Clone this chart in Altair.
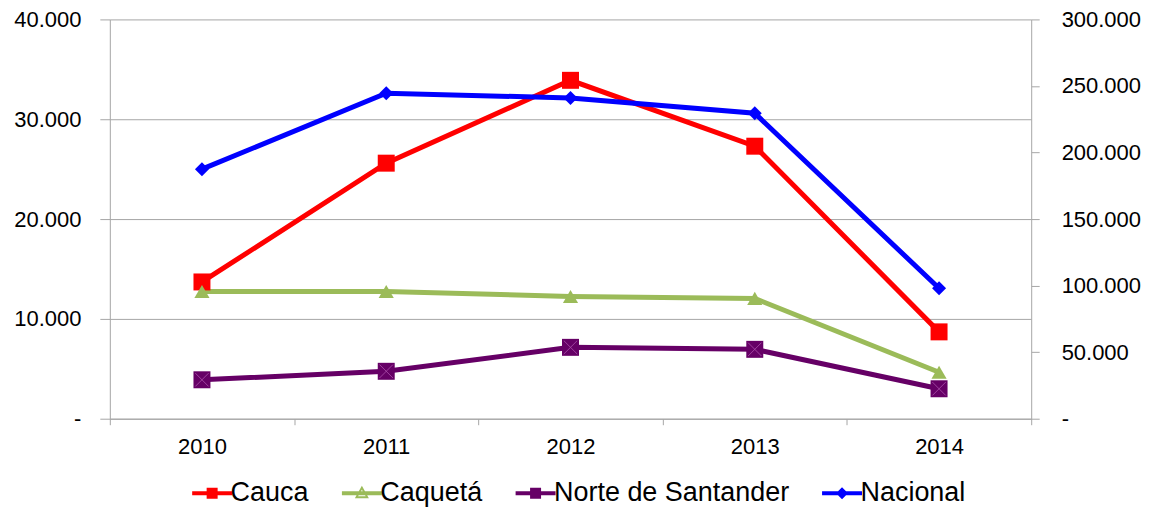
import altair as alt
import pandas as pd

years = [2010, 2011, 2012, 2013, 2014]
series_names = ["Cauca", "Caquetá", "Norte de Santander", "Nacional"]
cauca = [13700, 25600, 33900, 27300, 8700]
caqueta = [12750, 12750, 12250, 12050, 4650]
norte = [3900, 4750, 7150, 6950, 3000]
nacional = [187500, 244500, 241000, 229500, 98000]
colors = ["#FF0000", "#9BBB59", "#660066", "#0000FF"]
left_ticks = [0, 10000, 20000, 30000, 40000]
right_ticks = [0, 50000, 100000, 150000, 200000, 250000, 300000]
x_edges = [2009.5, 2010.5, 2011.5, 2012.5, 2013.5, 2014.5]

rows = []
for name, vals in zip(series_names, [cauca, caqueta, norte, nacional]):
    for yr, v in zip(years, vals):
        rows.append({"year": yr, "series": name, "value": v})
df = pd.DataFrame(rows)
df_reg = df[df["series"] != "Nacional"]
df_nac = df[df["series"] == "Nacional"]

GRID = "#a6a6a6"
FONT = "Liberation Sans"
AXFS = 22

line_rect = "M-2,-0.2L2,-0.2L2,0.2L-2,0.2Z"
sq = "M-0.55,-0.55L0.55,-0.55L0.55,0.55L-0.55,0.55Z"
tri = "M0,-0.75L0.7,0.5L-0.7,0.5Z M0,-0.35L-0.38,0.3L0.38,0.3Z"
dia = "M0,-0.6L0.6,0L0,0.6L-0.6,0Z"
legend_paths = [line_rect + sq, line_rect + tri, line_rect + sq, line_rect + dia]

# the line/marker colour scale lists the series in reverse order so that its
# (hidden) legend is not merged with the visible legend below
color_scale = alt.Scale(domain=series_names[::-1], range=colors[::-1])
num_label = "datum.value == 0 ? '-' : replace(format(datum.value, ',.0f'), ',', '.')"
x_scale = alt.Scale(domain=[2009.5, 2014.5], nice=False, zero=False)

x_ticks = alt.X(
    "year:Q", scale=x_scale,
    axis=alt.Axis(
        orient="bottom", values=x_edges, title=None, grid=False, tickSize=6,
        tickColor=GRID, domainColor=GRID, labels=False,
    ),
)
x_labels = alt.X(
    "year:Q", scale=x_scale,
    axis=alt.Axis(
        orient="bottom", values=years, title=None, grid=False, ticks=False,
        tickSize=0, domain=False, labelPadding=18, labelFlush=False,
        labelOverlap=False, labelFontSize=AXFS, labelFont=FONT,
        labelColor="#000000", format="d",
    ),
)

y_left = alt.Y(
    "value:Q",
    scale=alt.Scale(domain=[0, 40000], nice=False),
    axis=alt.Axis(
        values=left_ticks, title=None, grid=True, gridColor=GRID, tickColor=GRID,
        domainColor=GRID, tickSize=10, labelPadding=19, labelFontSize=AXFS,
        labelFont=FONT, labelColor="#000000", labelExpr=num_label,
    ),
)

y_right = alt.Y(
    "value:Q",
    scale=alt.Scale(domain=[0, 300000], nice=False),
    axis=alt.Axis(
        orient="right", values=right_ticks, title=None, grid=False, tickColor=GRID,
        domainColor=GRID, tickSize=8, labelPadding=22, labelFontSize=AXFS,
        labelFont=FONT, labelColor="#000000", labelExpr=num_label,
    ),
)

col = alt.Color("series:N", scale=color_scale, legend=None)

reg_base = alt.Chart(df_reg)
reg_lines = reg_base.mark_line(strokeWidth=5).encode(x=x_ticks, y=y_left, color=col)
reg_pts = []
for name, shape, size in [("Cauca", "square", 289), ("Caquetá", "triangle-up", 230),
                          ("Norte de Santander", "square", 289)]:
    reg_pts.append(
        reg_base.transform_filter(alt.datum.series == name)
        .mark_point(shape=shape, filled=True, size=size, opacity=1)
        .encode(x=x_ticks, y=y_left, color=col)
    )
norte_x = (
    reg_base.transform_filter(alt.datum.series == "Norte de Santander")
    .mark_point(shape="M-1,-1L1,1M-1,1L1,-1", filled=False, size=180,
                stroke="#b45ab4", strokeWidth=0.8, opacity=0.9)
    .encode(x=x_ticks, y=y_left)
)

leg = alt.Legend(
    title=None, orient="none", direction="horizontal", legendX=89,
    legendY=461, symbolSize=400, symbolStrokeWidth=0, symbolOpacity=1,
    labelFontSize=27, labelFont=FONT, labelColor="#000000", labelLimit=500,
    labelOffset=5, columnPadding=32, padding=0,
)
legend_layer = (
    alt.Chart(df)
    .transform_filter("false")
    .mark_point(filled=True, size=400, opacity=1)
    .encode(
        x=alt.value(0),
        y=alt.value(0),
        fill=alt.Fill("series:N", scale=alt.Scale(domain=series_names, range=colors), legend=leg),
        shape=alt.Shape("series:N", scale=alt.Scale(domain=series_names, range=legend_paths), legend=leg),
    )
)

left_layer = alt.layer(reg_lines, *reg_pts, norte_x, legend_layer)

nac_base = alt.Chart(df_nac)
nac_line = nac_base.mark_line(strokeWidth=5).encode(x=x_labels, y=y_right, color=col)
nac_pts = nac_base.mark_point(shape="diamond", filled=True, size=196, opacity=1).encode(
    x=x_labels, y=y_right, color=col
)
right_layer = alt.layer(nac_line, nac_pts)

chart = (
    alt.layer(left_layer, right_layer)
    .resolve_scale(y="independent")
    .resolve_axis(x="independent")
    .properties(
        width=923, height=400,
        padding={"left": 5, "top": 0, "right": 0, "bottom": 0},
        background="#FFFFFF",
    )
    .configure_view(stroke=None)
)

chart.save("out.html", embed_options={"renderer": "svg", "actions": False})
